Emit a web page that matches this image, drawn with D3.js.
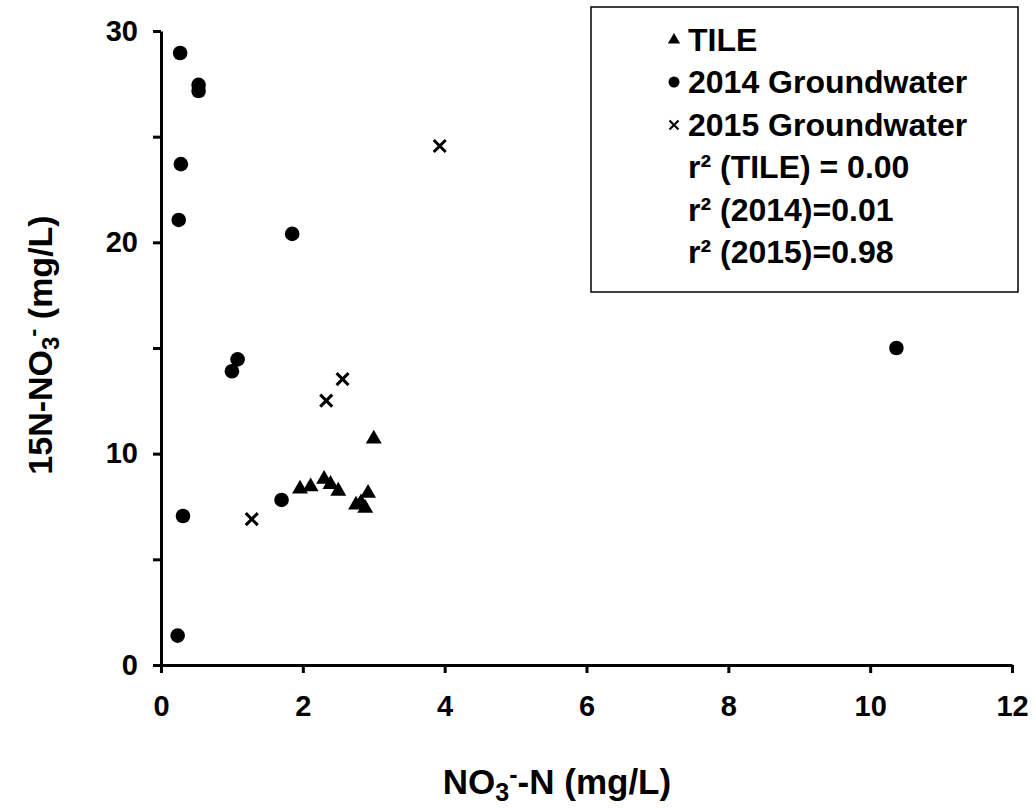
<!DOCTYPE html>
<html><head><meta charset="utf-8">
<script src="https://cdn.jsdelivr.net/npm/d3@7"></script>
<style>body{margin:0;background:#fff}svg text{font-family:Arial,"Liberation Sans",sans-serif;font-weight:bold;fill:#000}</style>
</head><body><svg id="c" width="1036" height="808"></svg>
<script>
const tileX = [1.96, 2.11, 2.30, 2.39, 2.50, 2.75, 2.82, 2.88, 2.92, 3.00];
const tileY = [8.33, 8.44, 8.79, 8.55, 8.23, 7.57, 7.68, 7.42, 8.13, 10.70];
const gw2014X = [0.27, 0.53, 0.53, 0.28, 0.25, 1.85, 1.08, 1.00, 0.31, 0.235, 1.70, 10.37];
const gw2014Y = [28.96, 27.45, 27.16, 23.7, 21.06, 20.4, 14.46, 13.9, 7.05, 1.39, 7.81, 15.0];
const gw2015X = [1.28, 2.33, 2.56, 3.93];
const gw2015Y = [6.9, 12.51, 13.53, 24.56];
const xTicks = [0, 2, 4, 6, 8, 10, 12];
const yTicks = [0, 5, 10, 15, 20, 25, 30];
const yLabels = [0, 10, 20, 30];
const legendItems = ["TILE", "2014 Groundwater", "2015 Groundwater", "r² (TILE) = 0.00", "r² (2014)=0.01", "r² (2015)=0.98"];

const svg = d3.select("#c");
const x = d3.scaleLinear().domain([0, 12]).range([161, 1012]);
const y = d3.scaleLinear().domain([0, 30]).range([665, 31]);

// axes
const xAxis = svg.append("g").attr("transform", "translate(0,665)")
  .call(d3.axisBottom(x).tickValues(xTicks).tickSize(8).tickSizeOuter(0));
const yAxis = svg.append("g").attr("transform", "translate(161,0)")
  .call(d3.axisLeft(y).tickValues(yTicks).tickSize(8).tickSizeOuter(0)
    .tickFormat(d => yLabels.includes(d) ? d : ""));
[xAxis, yAxis].forEach(a => {
  a.select(".domain").attr("stroke", "#000").attr("stroke-width", 3);
  a.selectAll(".tick line").attr("stroke", "#000").attr("stroke-width", 3);
  a.selectAll(".tick text").style("font-size", "29px").attr("fill", "#000");
});
xAxis.selectAll(".tick text").attr("dy", "0.71em").attr("y", 30);
yAxis.selectAll(".tick text").attr("x", -23);

// axis titles
const xt = svg.append("text").attr("x", 557).attr("y", 794).attr("text-anchor", "middle").style("font-size", "35px");
xt.append("tspan").text("NO");
xt.append("tspan").text("3").attr("baseline-shift", "-28%").style("font-size", "25px");
xt.append("tspan").text("-").attr("baseline-shift", "45%").style("font-size", "25px");
xt.append("tspan").text("-N (mg/L)");

const yt = svg.append("text").attr("transform", "translate(52,345) rotate(-90)").attr("text-anchor", "middle").style("font-size", "34px");
yt.append("tspan").text("15N-NO");
yt.append("tspan").text("3").attr("baseline-shift", "-28%").style("font-size", "24px");
yt.append("tspan").text("-").attr("baseline-shift", "45%").style("font-size", "24px");
yt.append("tspan").text(" (mg/L)");

// markers
const tri = d3.symbol().type(d3.symbolTriangle).size(110);
svg.append("g").selectAll("path").data(tileX.map((v, i) => [v, tileY[i]])).join("path")
  .attr("d", tri).attr("transform", d => `translate(${x(d[0])},${y(d[1])})`).attr("fill", "#000");
svg.append("g").selectAll("circle").data(gw2014X.map((v, i) => [v, gw2014Y[i]])).join("circle")
  .attr("cx", d => x(d[0])).attr("cy", d => y(d[1])).attr("r", 7.3).attr("fill", "#000");
const cr = 6;
svg.append("g").selectAll("path").data(gw2015X.map((v, i) => [v, gw2015Y[i]])).join("path")
  .attr("d", `M${-cr},${-cr}L${cr},${cr}M${-cr},${cr}L${cr},${-cr}`)
  .attr("transform", d => `translate(${x(d[0])},${y(d[1])})`)
  .attr("stroke", "#000").attr("stroke-width", 3).attr("fill", "none");

// legend
const lg = svg.append("g");
lg.append("rect").attr("x", 591).attr("y", 7).attr("width", 427).attr("height", 285)
  .attr("fill", "#fff").attr("stroke", "#000").attr("stroke-width", 1.5);
const rowY = [40, 82, 125, 167, 210, 252];
legendItems.forEach((t, i) => {
  lg.append("text").attr("x", 688).attr("y", rowY[i] + 11).style("font-size", "32px").text(t);
});
const mx = 674;
lg.append("path").attr("d", d3.symbol().type(d3.symbolTriangle).size(65)).attr("transform", `translate(${mx},${rowY[0]})`).attr("fill", "#000");
lg.append("circle").attr("cx", mx).attr("cy", rowY[1]).attr("r", 5.5).attr("fill", "#000");
const lr = 4.5;
lg.append("path").attr("d", `M${-lr},${-lr}L${lr},${lr}M${-lr},${lr}L${lr},${-lr}`)
  .attr("transform", `translate(${mx},${rowY[2]})`).attr("stroke", "#000").attr("stroke-width", 2.2);
</script></body></html>
